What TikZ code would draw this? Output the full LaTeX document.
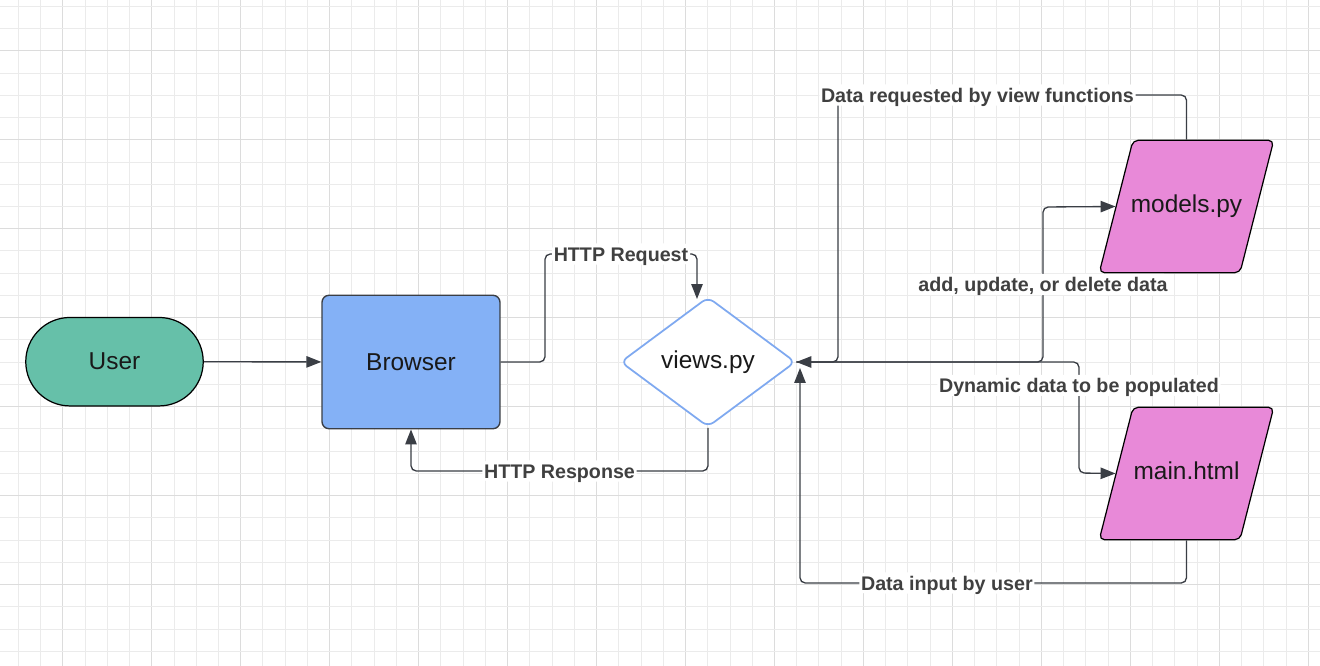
\documentclass[tikz,border=0pt]{standalone}
\usepackage{fontspec}
\setmainfont{Liberation Sans}
\usepackage{tikz}
\usetikzlibrary{positioning,arrows.meta,shapes.geometric}

\definecolor{gridminor}{HTML}{EBEBEB}
\definecolor{gridmajor}{HTML}{DCDCDC}
\definecolor{linegray}{HTML}{3A3E45}
\definecolor{labelgray}{HTML}{404040}
\definecolor{userfill}{HTML}{66C0A9}
\definecolor{browserfill}{HTML}{84B1F6}
\definecolor{viewsline}{HTML}{7FA9F0}
\definecolor{filefill}{HTML}{E889D8}

\newcommand{\filename}[1]{\makebox[2.14cm]{#1}}

\begin{document}
\begin{tikzpicture}[
    x=0.02cm, y=-0.02cm,
    shapetext/.style={font=\fontsize{13.9}{16}\selectfont, text=black!90},
    terminal/.style={shapetext, draw=black, line width=0.7pt, rounded corners=0.885cm, fill=userfill, minimum width=3.55cm, minimum height=1.77cm},
    box/.style={shapetext, draw=linegray, line width=0.8pt, rounded corners=4pt, fill=browserfill, minimum width=3.56cm, minimum height=2.67cm},
    decision/.style={shapetext, diamond, draw=viewsline, line width=1pt, rounded corners=4pt, fill=white, aspect=1.346, inner sep=0pt, minimum width=3.5cm, minimum height=2.6cm},
    datafile/.style={shapetext, trapezium, trapezium left angle=75.7, trapezium right angle=104.3, draw=black, line width=0.7pt, rounded corners=3pt, fill=filefill, inner xsep=0pt, inner ysep=31.2pt, text height=10pt, text depth=3pt, minimum width=0pt, minimum height=0pt},
    conn/.style={draw=linegray, line width=0.75pt, rounded corners=3pt, -{Triangle[length=8.5pt, width=6.5pt]}},
    lbl/.style={font=\fontsize{11.2}{13}\selectfont\bfseries, text=labelgray, fill=white, inner xsep=1pt, inner ysep=2pt, text height=8pt, text depth=0pt},
    gridline/.style={gridminor, line width=0.02cm},
    gridbold/.style={gridmajor, line width=0.02cm},
]
    \useasboundingbox (0,0) rectangle (1320,666);
    \fill[white] (0,0) rectangle (1320,666);

    % grid, one pixel wide lines, every fourth one darker
    \foreach \i in {1,...,60} {
        \pgfmathsetmacro{\gx}{round(-4.42+22.24*\i)+0.5}
        \pgfmathtruncatemacro{\r}{mod(\i,4)}
        \ifnum\r=3
            \draw[gridbold] (\gx,0) -- (\gx,666);
        \else
            \draw[gridline] (\gx,0) -- (\gx,666);
        \fi
    }
    \foreach \i in {0,...,30} {
        \pgfmathsetmacro{\gy}{round(5.82+22.24*\i)+0.5}
        \pgfmathtruncatemacro{\r}{mod(\i,4)}
        \ifnum\r=2
            \draw[gridbold] (0,\gy) -- (1320,\gy);
        \else
            \draw[gridline] (0,\gy) -- (1320,\gy);
        \fi
    }

    % shapes
    \node[terminal] (user) at (114.5,361.7) {User};
    \node[box] (browser) at (411,362) {Browser};
    \node[decision] (views) at (708,362) {views.py};
    \node[datafile] (models) at (1186.5,206.5) {\filename{models.py}};
    \node[datafile] (main) at (1186.5,473.5) {\filename{main.html}};

    \coordinate (reqin) at (697,299);
    \coordinate (inputin) at (800,368);

    % connectors
    \draw[conn] (user) -- (browser);
    \draw[conn] (browser.east) -- (545,362) -- (545,254) -- node[lbl]{HTTP Request} (697,254) -- (reqin);
    \draw[conn] (views.south) -- (708,471) -- node[lbl]{HTTP Response} (411,471) -- (browser.south);
    \draw[conn] (models.north) -- (1186.5,95) -- node[lbl, pos=0.6]{Data requested by view functions} (838,95) -- (838,362) -- (views.east);
    \draw[conn] (views.east) -- (1043,362) -- node[lbl]{add, update, or delete data} (1043,207) -- (models.west);
    \draw[conn] (views.east) -- (1079,362) -- node[lbl, pos=0.21]{Dynamic data to be populated} (1079,473) -- (main.west);
    \draw[conn] (main.south) -- (1186.5,583) -- node[lbl, pos=0.62]{Data input by user} (800,583) -- (inputin);
\end{tikzpicture}
\end{document}
